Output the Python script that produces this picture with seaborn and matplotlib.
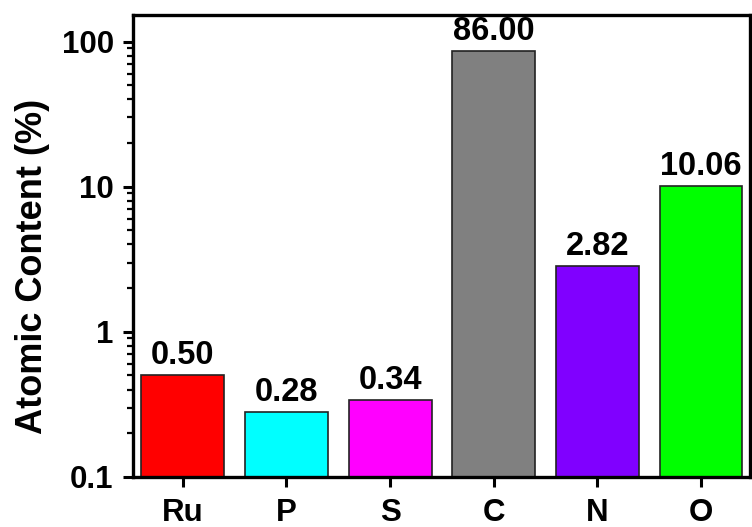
import matplotlib
matplotlib.use("Agg")
import matplotlib.pyplot as plt
import seaborn as sns
import pandas as pd
from matplotlib.ticker import LogLocator, FixedLocator, NullFormatter

elements = ["Ru", "P", "S", "C", "N", "O"]
values = [0.50, 0.28, 0.34, 86.00, 2.82, 10.06]
labels = ["0.50", "0.28", "0.34", "86.00", "2.82", "10.06"]
colors = ["#FF0000", "#00FFFF", "#FF00FF", "#808080", "#8000FF", "#00FF00"]
ytick_vals = [0.1, 1, 10, 100]
ytick_labels = ["0.1", "1", "10", "100"]

sns.set_theme(style="white")
plt.rcParams['font.family'] = ['Liberation Sans', 'DejaVu Sans']
plt.rcParams['font.weight'] = 'bold'
plt.rcParams['text.color'] = 'black'
plt.rcParams['axes.labelcolor'] = 'black'
plt.rcParams['xtick.color'] = 'black'
plt.rcParams['ytick.color'] = 'black'

df = pd.DataFrame({"Element": elements, "Value": values})

fig = plt.figure(figsize=(7.52, 5.27), dpi=100)
ax = fig.add_axes([0.177, 0.095, 0.82, 0.877])
sns.barplot(data=df, x="Element", y="Value", hue="Element", palette=colors,
            legend=False, width=0.8, saturation=1, edgecolor="#222222",
            linewidth=1.2, ax=ax)
ax.set_yscale("log")
ax.set_ylim(0.1, 153)
ax.set_xlim(-0.48, 5.47)

for i, (v, t) in enumerate(zip(values, labels)):
    ax.annotate(t, (i, v), xytext=(0, 3), textcoords="offset points",
                ha="center", va="bottom", fontsize=23.5, fontweight="bold",
                color="black")

ax.yaxis.set_major_locator(FixedLocator(ytick_vals))
ax.set_yticklabels(ytick_labels)
ax.yaxis.set_minor_locator(LogLocator(base=10, subs=range(2, 10)))
ax.yaxis.set_minor_formatter(NullFormatter())

ax.set_xlabel("")
ax.set_ylabel("Atomic Content (%)", fontsize=26, fontweight="bold", labelpad=8)
ax.yaxis.set_label_coords(-0.134, 0.455)

for s in ax.spines.values():
    s.set_linewidth(2.4)
    s.set_color("black")

ax.tick_params(axis="both", which="major", direction="out", length=7, width=2.2,
               labelsize=22.5, color="black", left=True, bottom=True, top=False,
               right=False)
ax.tick_params(axis="y", which="major", pad=7)
ax.tick_params(axis="x", which="major", pad=8)
ax.tick_params(axis="y", which="minor", direction="out", length=4, width=1.6,
               left=True, right=False)
for lab in ax.get_xticklabels() + ax.get_yticklabels():
    lab.set_fontweight("bold")

fig.savefig("out.png", dpi=100)
